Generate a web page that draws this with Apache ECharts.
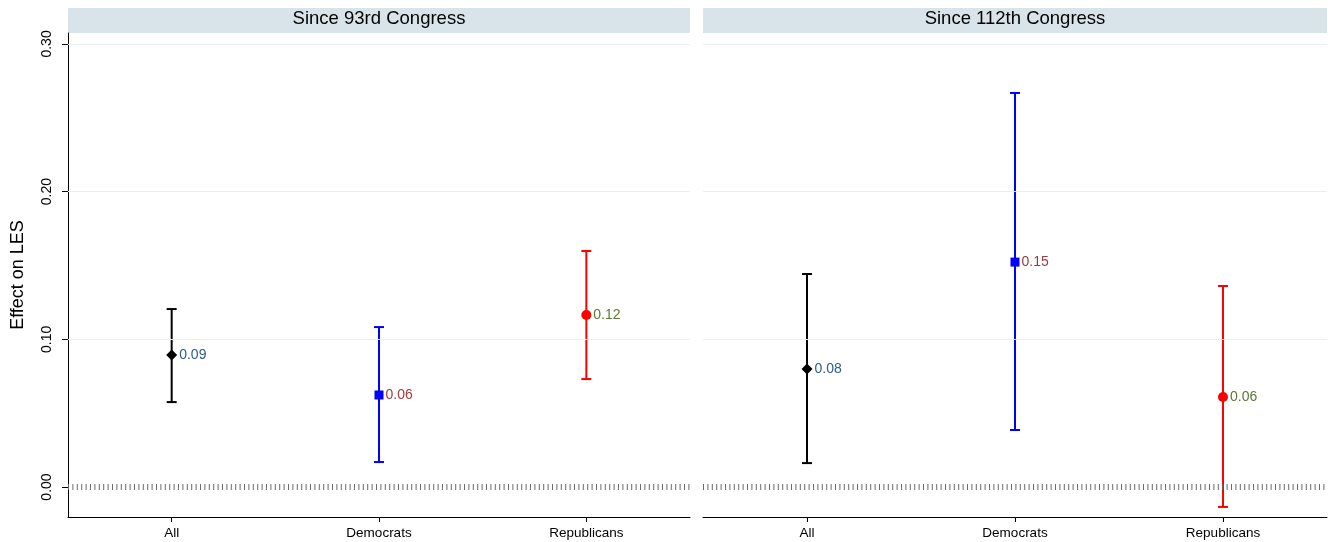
<!DOCTYPE html>
<html>
<head>
<meta charset="utf-8">
<script src="https://cdn.jsdelivr.net/npm/echarts@6/dist/echarts.min.js"></script>
<style>
  html, body { margin: 0; padding: 0; background: #fff; }
  #chart { width: 1333px; height: 542px; }
</style>
</head>
<body>
<div id="chart"></div>
<script>
// Groups on the x axis and panel headers
const categories = ['All', 'Democrats', 'Republicans'];
const panelTitles = ['Since 93rd Congress', 'Since 112th Congress'];

// Point estimates and 95% confidence bounds, since the 93rd Congress
const est93 = [0.0894, 0.0623, 0.1165];
const lo93 = [0.0575, 0.0169, 0.0731];
const hi93 = [0.1205, 0.1083, 0.1598];

// Point estimates and bounds, since the 112th Congress
const est112 = [0.0799, 0.1523, 0.0609];
const lo112 = [0.0162, 0.0386, -0.0135];
const hi112 = [0.1442, 0.2668, 0.1361];

// Y axis tick labels
const yTicks = [0, 0.1, 0.2, 0.3];

const markColors = ['#000000', '#0000ff', '#ff0000'];
const markSymbols = ['diamond', 'rect', 'circle'];
const markSizes = [11, 9, 10];
const labelColors = ['#2e5a88', '#9c3a3c', '#577a32'];
const FONT = '"Liberation Sans", Arial, Helvetica, sans-serif';

const chart = echarts.init(document.getElementById('chart'), null, { renderer: 'canvas' });

const grids = [
  { left: 68, top: 33, width: 622, height: 484 },
  { left: 703, top: 33, width: 624, height: 484 }
];

function xAxisFor(i) {
  return {
    type: 'category', gridIndex: i, data: categories, boundaryGap: true,
    axisLine: { show: true, onZero: false, lineStyle: { color: '#000', width: 1 } },
    axisTick: { show: true, alignWithLabel: true, length: 5, lineStyle: { color: '#000' } },
    axisLabel: { color: '#000', fontSize: 13.5, fontFamily: FONT, margin: 9 },
    splitLine: { show: false }
  };
}

function yAxisFor(i) {
  const first = i === 0;
  return {
    type: 'value', gridIndex: i, min: -0.0203, max: 0.3074,
    axisLine: { show: first, lineStyle: { color: '#000', width: 1 } },
    axisTick: { show: first, length: 6, customValues: yTicks, lineStyle: { color: '#000' } },
    axisLabel: {
      show: first, rotate: 90, customValues: yTicks, margin: 14,
      color: '#000', fontSize: 14, fontFamily: FONT,
      formatter: v => v.toFixed(2)
    },
    splitLine: { show: false },
    name: first ? 'Effect on LES' : '',
    nameLocation: 'middle', nameGap: 41, nameRotate: 90,
    nameTextStyle: { color: '#000', fontSize: 18, fontFamily: FONT }
  };
}

function buildSeries(i, est, lo, hi) {
  const series = [];
  // Horizontal gridlines and the zero reference line
  series.push({
    type: 'line', xAxisIndex: i, yAxisIndex: i, data: [], silent: true,
    markLine: {
      symbol: 'none', silent: true, animation: false, label: { show: false },
      data: yTicks.filter(v => v > 0).map(v => ({
        yAxis: v, lineStyle: { color: '#e8eff2', width: 1, type: 'solid' }
      })).concat([{
        yAxis: 0, lineStyle: { color: '#6a6a6a', width: 6, type: [1, 3.4] }
      }])
    }
  });
  // Confidence interval bars with caps
  series.push({
    type: 'custom', xAxisIndex: i, yAxisIndex: i, z: 3,
    data: categories.map((c, k) => [k, lo[k], hi[k]]),
    renderItem: (params, api) => {
      const k = api.value(0);
      const top = api.coord([k, api.value(2)]);
      const bot = api.coord([k, api.value(1)]);
      const cap = 5;
      const style = { stroke: markColors[k], lineWidth: 2 };
      return {
        type: 'group',
        children: [
          { type: 'line', shape: { x1: top[0], y1: top[1], x2: bot[0], y2: bot[1] }, style },
          { type: 'line', shape: { x1: top[0] - cap, y1: top[1], x2: top[0] + cap, y2: top[1] }, style },
          { type: 'line', shape: { x1: bot[0] - cap, y1: bot[1], x2: bot[0] + cap, y2: bot[1] }, style }
        ]
      };
    }
  });
  // Point estimates with value labels
  series.push({
    type: 'scatter', xAxisIndex: i, yAxisIndex: i, z: 4,
    data: categories.map((c, k) => ({
      value: [k, est[k]],
      symbol: markSymbols[k], symbolSize: markSizes[k],
      itemStyle: { color: markColors[k], opacity: 1 },
      label: {
        show: true, position: 'right', distance: 2,
        formatter: p => p.value[1].toFixed(2),
        color: labelColors[k], fontSize: 14, fontFamily: FONT
      }
    }))
  });
  return series;
}

const option = {
  backgroundColor: '#fff',
  animation: false,
  grid: grids,
  xAxis: [xAxisFor(0), xAxisFor(1)],
  yAxis: [yAxisFor(0), yAxisFor(1)],
  graphic: grids.map((g, i) => ({
    type: 'group', left: g.left, top: 8,
    children: [
      { type: 'rect', shape: { x: 0, y: 0, width: g.width, height: 25 }, style: { fill: '#d9e4ea' } },
      {
        type: 'text', x: g.width / 2, y: 11,
        style: { text: panelTitles[i], fill: '#000', fontSize: 18.5, fontFamily: FONT, align: 'center', verticalAlign: 'middle' }
      }
    ]
  })),
  series: [
    ...buildSeries(0, est93, lo93, hi93),
    ...buildSeries(1, est112, lo112, hi112)
  ]
};

chart.setOption(option);
</script>
</body>
</html>
